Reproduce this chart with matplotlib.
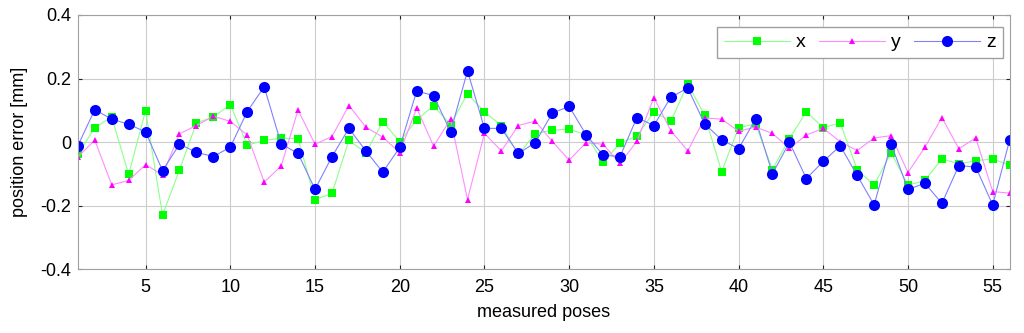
import matplotlib
matplotlib.use("Agg")
import matplotlib.pyplot as plt
import numpy as np

plt.rcParams["font.family"] = ["Liberation Sans", "DejaVu Sans"]

# measured pose index
poses = np.arange(1, 57)

# position error [mm] per axis
err_x = [-0.039, 0.045, 0.079, -0.102, 0.099, -0.230, -0.088, 0.060, 0.079, 0.118,
         -0.010, 0.005, 0.012, 0.011, -0.181, -0.162, 0.005, -0.034, 0.064, 0.001,
         0.070, 0.114, 0.055, 0.152, 0.095, 0.052, -0.039, 0.026, 0.037, 0.041,
         0.022, -0.064, -0.003, 0.019, 0.095, 0.065, 0.183, 0.084, -0.093, 0.045,
         0.057, -0.087, 0.011, 0.095, 0.045, 0.060, -0.087, -0.136, -0.034, -0.136,
         -0.121, -0.053, -0.069, -0.059, -0.053, -0.073]
err_y = [-0.047, 0.006, -0.135, -0.121, -0.071, -0.104, 0.026, 0.052, 0.081, 0.065,
         0.022, -0.126, -0.076, 0.101, -0.007, 0.017, 0.115, 0.047, 0.015, -0.033,
         0.107, -0.013, 0.072, -0.181, 0.027, -0.028, 0.052, 0.066, 0.002, -0.057,
         -0.002, -0.007, -0.067, 0.002, 0.140, 0.036, -0.028, 0.076, 0.072, 0.034,
         0.047, 0.027, -0.020, 0.022, 0.043, 0.001, -0.027, 0.013, 0.020, -0.096,
         -0.016, 0.077, -0.021, 0.013, -0.156, -0.161]
err_z = [-0.012, 0.102, 0.072, 0.056, 0.032, -0.090, -0.007, -0.032, -0.046, -0.016,
         0.096, 0.174, -0.006, -0.036, -0.149, -0.046, 0.043, -0.028, -0.095, -0.017,
         0.161, 0.146, 0.032, 0.224, 0.043, 0.043, -0.036, -0.002, 0.091, 0.112,
         0.023, -0.041, -0.046, 0.077, 0.052, 0.141, 0.170, 0.057, 0.007, -0.021,
         0.072, -0.100, -0.001, -0.115, -0.061, -0.012, -0.105, -0.198, -0.006, -0.149,
         -0.130, -0.193, -0.074, -0.079, -0.198, 0.007]

x_ticks = [5, 10, 15, 20, 25, 30, 35, 40, 45, 50, 55]
y_ticks = [-0.4, -0.2, 0, 0.2, 0.4]
y_tick_labels = ["-0.4", "-0.2", "0", "0.2", "0.4"]

fig = plt.figure(figsize=(10.24, 3.33), dpi=100)
ax = fig.add_axes([0.076, 0.192, 0.910, 0.763])

# thin, washed-out connecting lines with solid markers (MATLAB look)
ax.plot(poses, err_x, color="#8cff8c", lw=0.8, marker="s", ms=5.2,
        mfc="#00ff00", mec="#00ff00", mew=0, label="x")
ax.plot(poses, err_y, color="#ff8cff", lw=0.8, marker="^", ms=5,
        mfc="#ff00ff", mec="#ff00ff", mew=0, label="y")
ax.plot(poses, err_z, color="#8080ff", lw=0.8, marker="o", ms=8,
        mfc="#0000ff", mec="#0000ff", mew=0, label="z")

ax.set_xlim(1, 56)
ax.set_ylim(-0.4, 0.4)
ax.set_xticks(x_ticks)
ax.set_yticks(y_ticks)
ax.set_yticklabels(y_tick_labels)
ax.grid(True, color="#cccccc", lw=0.8)
ax.tick_params(direction="in", top=True, right=True, labelsize=13,
               length=3, color="#222222")
ax.tick_params(axis="x", pad=7)
ax.tick_params(axis="y", pad=5)
for s in ax.spines.values():
    s.set_color("#a0a0a0")

ax.set_xlabel("measured poses", fontsize=13, labelpad=6)
ax.set_ylabel("position error [mm]", fontsize=13, labelpad=9)

leg = ax.legend(loc="upper right", ncol=3, fontsize=14, frameon=True,
                fancybox=False, edgecolor="#a0a0a0", framealpha=1,
                handlelength=3.4, columnspacing=0.7, handletextpad=0.3,
                borderpad=0.35, borderaxespad=0,
                bbox_to_anchor=(0.9925, 0.953))
leg.get_frame().set_linewidth(1.0)

fig.savefig("out.png", dpi=100)
